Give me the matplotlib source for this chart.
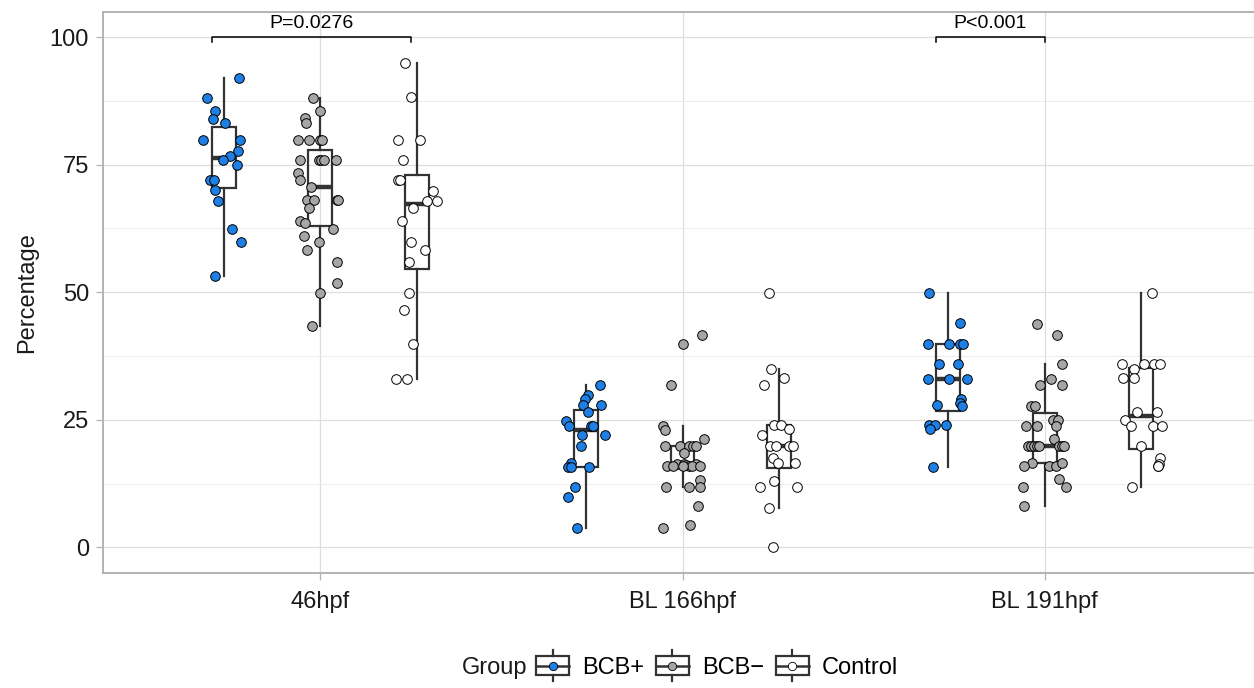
import numpy as np
import matplotlib
matplotlib.use("Agg")
import matplotlib.pyplot as plt
from matplotlib.legend_handler import HandlerBase
from matplotlib.patches import Rectangle
from matplotlib.lines import Line2D

plt.rcParams['font.family'] = ['Liberation Sans', 'DejaVu Sans']

# ---- data ----
timepoints = ["46hpf", "BL 166hpf", "BL 191hpf"]
groups = ["BCB+", "BCB\u2212", "Control"]
group_colors = ["#1E80E5", "#A6A6A6", "#FFFFFF"]

# percentage values per timepoint / group
bcbp_46 = [92.0, 88.0, 85.6, 83.9, 83.2, 79.9, 79.9, 77.7, 76.6, 75.9, 74.9, 72.0,
           72.0, 70.0, 67.9, 62.4, 59.9, 53.2]
bcbm_46 = [88.0, 85.6, 84.1, 83.2, 79.9, 79.9, 79.9, 79.9, 75.9, 75.9, 75.9, 75.9,
           75.9, 73.3, 72.0, 70.7, 68.0, 68.0, 68.0, 68.0, 66.6, 64.0, 63.5, 62.4,
           61.1, 59.9, 58.3, 56.0, 51.9, 49.9, 43.3]
ctrl_46 = [94.9, 88.2, 79.9, 79.9, 75.9, 72.0, 72.0, 69.9, 67.9, 67.9, 66.5, 63.9,
           59.9, 58.3, 56.0, 49.9, 46.6, 39.9, 33.1, 33.1]
bcbp_166 = [31.9, 29.8, 29.0, 27.9, 27.9, 26.5, 24.8, 23.8, 23.8, 23.8, 22.1, 22.1,
            19.8, 16.5, 15.8, 15.8, 15.8, 11.8, 9.8, 3.9]
bcbm_166 = [41.6, 39.9, 31.9, 23.7, 23.1, 21.3, 19.8, 19.8, 19.8, 19.8, 19.8, 18.5,
            16.4, 16.4, 16.4, 16.2, 15.9, 15.9, 15.9, 15.9, 15.9, 13.2, 11.9, 11.9,
            11.9, 15.9, 8.2, 4.4, 3.8]
ctrl_166 = [49.8, 34.9, 33.2, 31.8, 23.9, 23.9, 23.2, 22.1, 19.8, 19.8, 19.8, 19.8,
            17.5, 16.5, 16.5, 13.1, 11.8, 11.8, 7.8, 0.0]
bcbp_191 = [49.8, 43.9, 39.9, 39.9, 39.9, 39.9, 35.9, 35.9, 33.1, 33.1, 33.1, 29.1,
            28.4, 27.8, 27.9, 23.9, 23.9, 23.2, 23.9, 15.8]
bcbm_191 = [43.8, 41.6, 35.9, 33.1, 31.9, 31.9, 27.8, 27.8, 25.0, 24.9, 23.8, 23.8,
            23.8, 21.3, 19.8, 19.8, 19.8, 19.8, 19.8, 19.8, 19.8, 19.8, 16.5, 15.9,
            15.9, 16.5, 15.9, 13.5, 11.9, 11.9, 8.2]
ctrl_191 = [49.8, 35.9, 35.9, 35.9, 35.9, 34.9, 33.2, 33.2, 26.5, 26.5, 25.0, 23.8,
            23.8, 23.8, 19.8, 17.5, 16.3, 16.0, 15.9, 11.8]

# horizontal jitter of each point, in % of category spacing
jit_bcbp_46 = [4.2, -4.6, -2.3, -2.8, 0.3, -5.6, 4.6, 3.9, 1.8, -0.2, 3.6, -3.7,
               -2.6, -2.4, -1.5, 2.4, 4.8, -2.5]
jit_bcbm_46 = [-2.0, 0.0, -4.3, -3.9, -6.1, -3.0, -0.2, 0.5, -5.6, -0.3, 0.2, 1.1,
               4.2, -6.1, -5.6, -2.6, -3.7, -1.8, 4.5, 5.0, -3.1, -5.5, -4.3, 3.5,
               -4.5, -0.5, -3.7, 4.7, 4.7, 0.0, -2.2]
jit_ctrl_46 = [-3.3, -1.6, -5.2, 0.8, -3.9, -5.3, -4.8, 4.5, 2.8, 5.4, -1.2, -4.1,
               -1.6, 2.2, -2.1, -2.3, -3.7, -1.1, -5.7, -2.9]
jit_bcbp_166 = [3.9, 0.5, -0.1, -0.8, 4.3, 0.5, -5.5, -4.5, 1.5, 1.9, -1.0, 5.2,
                -1.4, -4.0, -4.8, -4.1, 1.0, -3.0, -4.8, -2.4]
jit_bcbm_166 = [5.4, 0.1, -3.2, -5.5, -4.9, 5.8, -4.8, -0.7, 1.9, 2.9, 3.8, 0.3,
                -1.5, 0.5, 3.6, 1.1, -4.2, -2.5, 1.7, 2.7, 4.8, 4.8, -4.5, 1.9,
                4.8, 0.0, 4.3, 2.0, -5.5]
jit_ctrl_166 = [-2.9, -2.4, 1.3, -4.3, -1.5, 0.6, 2.6, -4.8, -2.5, -1.0, 2.7, 3.8,
                -1.8, -0.2, 4.3, -1.4, -5.2, 4.9, -2.8, -1.6]
jit_bcbp_191 = [-5.2, 3.3, -5.4, 0.4, 3.4, 4.1, -2.6, 2.8, -5.5, 0.2, 5.2, 3.5,
                3.2, 3.8, -3.0, -5.3, -3.6, -4.9, -0.6, -4.2]
jit_bcbm_191 = [-2.1, 3.5, 4.9, 1.7, -1.2, 4.8, -3.8, -2.8, 2.2, 3.6, -5.2, -2.0,
                3.1, 2.7, -4.6, -3.9, -3.0, -2.2, -1.5, 4.0, 4.8, 5.2, -3.6, 1.3,
                3.0, 4.8, -5.8, 3.9, -6.0, 5.8, -5.6]
jit_ctrl_191 = [2.9, -5.3, 0.7, 3.5, 5.2, -2.0, -5.2, -2.1, -1.1, 4.4, -4.4, -2.8,
                3.1, 5.6, 0.0, 5.0, 4.8, 4.6, 4.6, -2.5]

values = [[bcbp_46, bcbm_46, ctrl_46],
          [bcbp_166, bcbm_166, ctrl_166],
          [bcbp_191, bcbm_191, ctrl_191]]
jitters = [[jit_bcbp_46, jit_bcbm_46, jit_ctrl_46],
           [jit_bcbp_166, jit_bcbm_166, jit_ctrl_166],
           [jit_bcbp_191, jit_bcbm_191, jit_ctrl_191]]

# significance brackets: (x start, x end, label), x in category units
sig_x0 = [0.70, 2.70]
sig_x1 = [1.25, 3.00]
sig_labels = ["P=0.0276", "P<0.001"]

# ---- figure ----
W, H = 1254, 688
fig = plt.figure(figsize=(W / 100, H / 100), dpi=100)
ax = fig.add_axes([103 / W, 115 / H, (1262 - 103) / W, (573 - 11.5) / H])

dodge = [-0.267, 0.0, 0.267]
box_w = 0.066
box_col = "#333333"
fs = 17

for ti in range(len(timepoints)):
    for gi in range(len(groups)):
        pos = ti + 1 + dodge[gi]
        ax.boxplot(values[ti][gi], positions=[pos], widths=box_w, whis=1.5,
                   showfliers=False, showcaps=False, patch_artist=True,
                   boxprops=dict(facecolor="none", edgecolor=box_col, linewidth=1.6),
                   whiskerprops=dict(color=box_col, linewidth=1.6),
                   medianprops=dict(color=box_col, linewidth=3.2, solid_capstyle="butt"),
                   zorder=3)
        xs = pos + np.array(jitters[ti][gi]) / 100.0
        ax.scatter(xs, values[ti][gi], s=48, facecolor=group_colors[gi],
                   edgecolor="black", linewidth=0.7, zorder=4)

# brackets
for x0, x1, lab in zip(sig_x0, sig_x1, sig_labels):
    ax.plot([x0, x0, x1, x1], [99.0, 100.0, 100.0, 99.0], color="black", lw=1.1,
            zorder=5, clip_on=False)
    ax.text((x0 + x1) / 2, 100.9, lab, ha="center", va="bottom", fontsize=14,
            family=["Liberation Sans Narrow", "Liberation Sans"], color="black")

ax.set_xlim(0.4, 3.6)
ax.set_ylim(-5, 105)
ax.set_xticks(range(1, len(timepoints) + 1))
ax.set_xticklabels(timepoints)
ax.set_yticks([0, 25, 50, 75, 100])
ax.set_yticks([12.5, 37.5, 62.5, 87.5], minor=True)
ax.tick_params(axis="both", which="major", labelsize=fs, labelcolor="#1a1a1a",
               color="#b3b3b3", length=5, width=0.9)
ax.tick_params(axis="y", which="minor", length=0)
ax.tick_params(axis="x", pad=8)
ax.tick_params(axis="y", pad=5)
ax.grid(True, which="major", color="#dedede", lw=0.9, zorder=0)
ax.grid(True, which="minor", axis="y", color="#ececec", lw=0.7, zorder=0)
ax.set_axisbelow(True)
for s in ax.spines.values():
    s.set_color("#b3b3b3")
    s.set_linewidth(1.4)
ax.set_ylabel("Percentage", fontsize=fs, color="#1a1a1a", labelpad=8)


class BoxKeyHandler(HandlerBase):
    def __init__(self, face):
        super().__init__()
        self.face = face

    def create_artists(self, legend, orig_handle, xdescent, ydescent, width, height,
                       fontsize, trans):
        cx = width / 2 - xdescent
        cy = height / 2 - ydescent
        bw, bh = width, height * 1.1
        rect = Rectangle((cx - bw / 2, cy - bh / 2), bw, bh, facecolor="white",
                         edgecolor=box_col, lw=1.6, transform=trans)
        med = Line2D([cx - bw / 2, cx + bw / 2], [cy, cy], color=box_col, lw=1.8,
                     transform=trans)
        wt = Line2D([cx, cx], [cy + bh / 2, cy + bh / 2 + height * 0.35], color=box_col,
                    lw=1.6, transform=trans)
        wb = Line2D([cx, cx], [cy - bh / 2, cy - bh / 2 - height * 0.35], color=box_col,
                    lw=1.6, transform=trans)
        pt = Line2D([cx], [cy], marker="o", ms=6, mfc=self.face, mec="black", mew=0.6,
                    transform=trans)
        return [rect, med, wt, wb, pt]


handles = [Line2D([], []) for _ in groups]
handler_map = {h: BoxKeyHandler(c) for h, c in zip(handles, group_colors)}
fig.legend(handles, groups, handler_map=handler_map, loc="center",
           bbox_to_anchor=(717 / W, 1 - 668 / H), ncol=3, frameon=False, fontsize=fs,
           handlelength=1.4, handleheight=0.75, handletextpad=0.55, columnspacing=0.5)
fig.text(527 / W, 1 - 668 / H, "Group", ha="right", va="center", fontsize=fs,
         color="#1a1a1a")

fig.savefig("out.png", dpi=100)
